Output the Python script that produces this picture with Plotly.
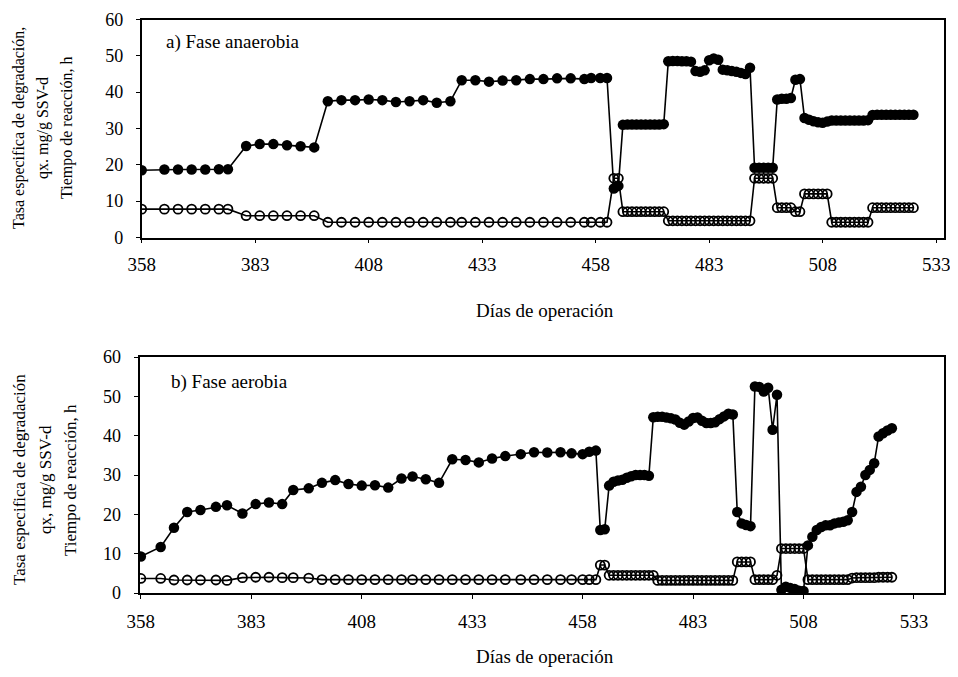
import plotly.graph_objects as go

# a) Fase anaerobia
dias_a = [
    358, 363, 366, 369, 372, 375, 377,
    381, 384, 387, 390, 393, 396,
    399, 402, 405, 408, 411, 414, 417, 420, 423, 426,
    428.5, 431.5, 434.5, 437.5, 440.5, 443.5, 446.5, 449.5, 452.5, 455.5, 457, 459, 460.5,
    462, 463,
    464, 465, 466, 467, 468, 469, 470, 471, 472, 473,
    474, 475, 476, 477, 478, 479,
    480, 481, 482, 483, 484, 485,
    486, 487, 488, 489, 490, 491, 492,
    493, 494, 495, 496, 497,
    498, 499, 500, 501, 502, 503,
    504, 505, 506, 507, 508, 509,
    510, 511, 512, 513, 514, 515, 516, 517, 518,
    519, 520, 521, 522, 523, 524, 525, 526, 527, 528,
]
qx_a = [
    18.5, 18.7, 18.7, 18.7, 18.7, 18.8, 18.8,
    25.2, 25.7, 25.7, 25.4, 25.1, 24.8,
    37.5, 37.8, 37.8, 38.0, 37.8, 37.3, 37.5, 37.8, 37.1, 37.5,
    43.3, 43.3, 42.9, 43.2, 43.3, 43.6, 43.6, 43.8, 43.8, 43.6, 43.9, 43.9, 43.9,
    13.5, 14.2,
    31.0, 31.1, 31.1, 31.1, 31.1, 31.1, 31.1, 31.1, 31.1, 31.2,
    48.5, 48.6, 48.6, 48.5, 48.5, 48.4,
    45.8, 45.6, 46.0, 48.8, 49.3, 48.9,
    46.2, 46.0, 45.8, 45.6, 45.3, 45.0, 46.7,
    19.2, 19.2, 19.2, 19.2, 19.2,
    38.0, 38.2, 38.2, 38.4, 43.4, 43.6,
    32.9, 32.4, 32.0, 31.7, 31.6, 31.9,
    32.2, 32.2, 32.2, 32.2, 32.2, 32.2, 32.2, 32.2, 32.3,
    33.7, 33.8, 33.8, 33.8, 33.8, 33.8, 33.8, 33.8, 33.8, 33.8,
]
tr_a = [
    7.8, 7.8, 7.8, 7.8, 7.8, 7.8, 7.8,
    6.0, 6.0, 6.0, 6.0, 6.0, 6.0,
    4.2, 4.2, 4.2, 4.2, 4.2, 4.2, 4.2, 4.2, 4.2, 4.2,
    4.2, 4.2, 4.2, 4.2, 4.2, 4.2, 4.2, 4.2, 4.2, 4.2, 4.2, 4.2, 4.2,
    16.3, 16.3,
    7.1, 7.1, 7.1, 7.1, 7.1, 7.1, 7.1, 7.1, 7.1, 7.1,
    4.6, 4.6, 4.6, 4.6, 4.6, 4.6,
    4.6, 4.6, 4.6, 4.6, 4.6, 4.6,
    4.6, 4.6, 4.6, 4.6, 4.6, 4.6, 4.6,
    16.3, 16.3, 16.3, 16.3, 16.3,
    8.2, 8.2, 8.2, 8.2, 7.1, 7.1,
    12.0, 12.0, 12.0, 12.0, 12.0, 12.0,
    4.2, 4.2, 4.2, 4.2, 4.2, 4.2, 4.2, 4.2, 4.2,
    8.2, 8.2, 8.2, 8.2, 8.2, 8.2, 8.2, 8.2, 8.2, 8.2,
]

# b) Fase aerobia
dias_b = [
    358, 362.5, 365.5, 368.5, 371.5, 375, 377.5,
    381, 384, 387, 390, 392.5, 396,
    399, 402, 405, 408, 411, 414, 417, 419.5, 422.5, 425.5,
    428.5, 431.5, 434.5, 437.5, 440.5, 444, 447, 450, 453, 455.5, 458, 459.5, 461,
    462, 463,
    464, 465, 466, 467, 468, 469, 470, 471, 472, 473,
    474, 475, 476, 477, 478, 479, 480, 481, 482, 483,
    484, 485, 486, 487, 488, 489, 490, 491, 492,
    493, 494, 495, 496,
    497, 498, 499, 500, 501, 502,
    503, 504, 505, 506, 507, 508,
    509, 510, 511, 512, 513, 514, 515, 516, 517, 518,
    519, 520, 521, 522, 523, 524, 525, 526, 527, 528,
]
qx_b = [
    9.3, 11.7, 16.6, 20.6, 21.1, 21.9, 22.3,
    20.2, 22.6, 23.0, 22.6, 26.2, 26.6,
    28.0, 28.7, 27.7, 27.3, 27.4, 26.8, 29.1, 29.6, 28.9, 28.0,
    34.0, 33.8, 33.2, 34.2, 34.8, 35.3, 35.8, 35.7, 35.8, 35.5, 35.3, 35.9, 36.2,
    16.0, 16.2,
    27.3, 28.3, 28.6, 28.8, 29.3, 29.7, 30.0, 30.0, 30.0, 29.8,
    44.7, 44.8, 44.8, 44.6, 44.4, 44.1, 43.3, 42.8, 43.6, 44.5,
    44.6, 43.8, 43.2, 43.2, 43.4, 44.2, 44.9, 45.6, 45.4,
    20.6, 17.7, 17.3, 17.0,
    52.5, 52.4, 51.2, 52.2, 41.5, 50.4,
    0.8, 1.6, 1.3, 1.0, 0.6, 0.5,
    12.1, 14.3, 16.0, 16.8, 17.2, 17.2, 17.7, 17.9, 18.1, 18.5,
    20.6, 25.7, 27.0, 30.0, 31.3, 33.0, 39.8, 40.6, 41.3, 41.9,
]
tr_b = [
    3.7, 3.7, 3.3, 3.3, 3.3, 3.3, 3.2,
    3.9, 4.0, 4.0, 3.9, 3.9, 3.8,
    3.4, 3.4, 3.4, 3.4, 3.4, 3.4, 3.4, 3.4, 3.4, 3.4,
    3.4, 3.4, 3.4, 3.4, 3.4, 3.4, 3.4, 3.4, 3.4, 3.4, 3.4, 3.4, 3.4,
    7.1, 7.1,
    4.5, 4.5, 4.5, 4.5, 4.5, 4.5, 4.5, 4.5, 4.5, 4.5,
    4.5, 3.2, 3.2, 3.2, 3.2, 3.2, 3.2, 3.2, 3.2, 3.2,
    3.2, 3.2, 3.2, 3.2, 3.2, 3.2, 3.2, 3.2, 3.2,
    7.9, 7.9, 7.9, 7.9,
    3.4, 3.4, 3.4, 3.4, 3.4, 4.5,
    11.3, 11.3, 11.3, 11.3, 11.3, 11.3,
    3.4, 3.4, 3.4, 3.4, 3.4, 3.4, 3.4, 3.4, 3.4, 3.4,
    3.8, 3.9, 3.9, 3.9, 3.9, 3.9, 4.0, 4.0, 4.0, 4.0,
]

y_ticks = [0, 10, 20, 30, 40, 50, 60]
x_ticks = [358, 383, 408, 433, 458, 483, 508, 533]

FONT = "Liberation Serif, Times New Roman, serif"
# the page body has an 8px margin, so the figure is 16px smaller than the window
OFF = 8
W, H = 958 - 2 * OFF, 677 - 2 * OFF


def py(y):
    # window pixel row -> paper coordinate
    return 1 - (y - OFF) / H


def px(x):
    return (x - OFF) / W


fig = go.Figure()

for dias, qx, tr, xa, ya in [(dias_a, qx_a, tr_a, "x", "y"), (dias_b, qx_b, tr_b, "x2", "y2")]:
    fig.add_trace(go.Scatter(
        x=dias, y=qx, xaxis=xa, yaxis=ya, mode="lines+markers",
        line=dict(color="black", width=1.6),
        marker=dict(symbol="circle", size=10.5, color="black"),
        showlegend=False,
    ))
    fig.add_trace(go.Scatter(
        x=dias, y=tr, xaxis=xa, yaxis=ya, mode="lines+markers",
        line=dict(color="black", width=1.6),
        marker=dict(symbol="circle-open", size=9, color="black", line=dict(width=1.8)),
        showlegend=False,
    ))

axis_common = dict(
    showline=True, linecolor="black", linewidth=1.8, mirror=True,
    showgrid=False, zeroline=False, ticks="outside", ticklen=4,
    tickcolor="black", ticklabeloverflow="allow",
)
x_font = dict(family=FONT, size=19, color="black")
y_font = dict(family=FONT, size=18, color="black")

fig.update_layout(
    width=W, height=H,
    margin=dict(l=0, r=0, t=0, b=0),
    template="none",
    paper_bgcolor="white", plot_bgcolor="white",
    font=dict(family=FONT, color="black"),
    xaxis=dict(domain=[px(141.7), px(944.3)], range=[358, 534.8], anchor="y",
               tickvals=x_ticks, ticklabelstandoff=5, tickfont=x_font, **axis_common),
    yaxis=dict(domain=[py(237.5), py(19.5)], range=[0, 60], anchor="x",
               tickvals=y_ticks, ticklabelstandoff=9, tickfont=y_font, **axis_common),
    xaxis2=dict(domain=[px(139.5), px(944)], range=[357.7, 539.8], anchor="y2",
                tickvals=x_ticks, ticklabelstandoff=6, tickfont=x_font, **axis_common),
    yaxis2=dict(domain=[py(593), py(357)], range=[0, 60], anchor="x2",
                tickvals=y_ticks, ticklabelstandoff=9, tickfont=y_font, **axis_common),
)

ann = []
for txt, x, y, size in [
    ("Tasa especifica de degradación,", 19, 128, 16),
    ("qx. mg/g SSV-d", 43, 128, 16),
    ("Tiempo de reacción, h", 67, 128, 16),
    ("Tasa especifica de degradación", 19, 480, 17),
    ("qx, mg/g SSV-d", 45, 480, 17),
    ("Tiempo de reacción, h", 70, 480, 17),
]:
    ann.append(dict(text=txt, x=px(x), y=py(y), xref="paper", yref="paper",
                    xanchor="center", yanchor="middle",
                    showarrow=False, textangle=-90,
                    font=dict(family=FONT, size=size, color="black")))

for y in (310, 656):
    ann.append(dict(text="Días de operación", x=px(545), y=py(y), xref="paper", yref="paper",
                    xanchor="center", yanchor="middle",
                    showarrow=False, font=dict(family=FONT, size=19, color="black")))

ann.append(dict(text="a) Fase anaerobia", x=px(164), y=py(42), xref="paper", yref="paper",
                xanchor="left", yanchor="middle", showarrow=False,
                font=dict(family=FONT, size=19, color="black")))
ann.append(dict(text="b) Fase aerobia", x=px(169), y=py(382), xref="paper", yref="paper",
                xanchor="left", yanchor="middle", showarrow=False,
                font=dict(family=FONT, size=19, color="black")))

fig.update_layout(annotations=ann)

fig.write_html("out.html")
